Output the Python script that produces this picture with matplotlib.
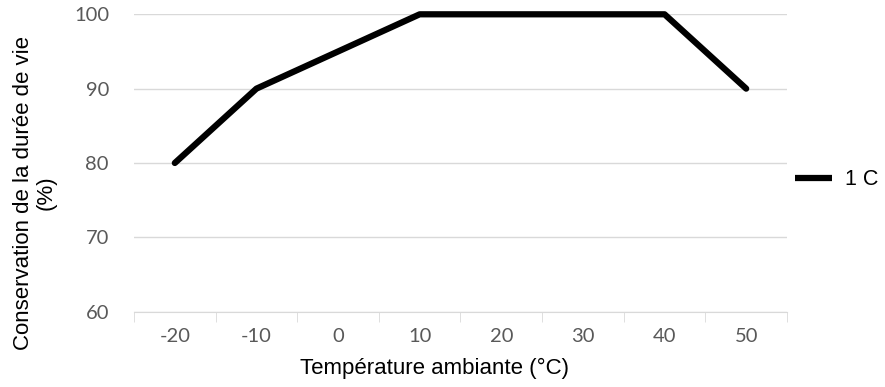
import matplotlib
matplotlib.use("Agg")
import matplotlib.pyplot as plt
import numpy as np

categories = ["-20", "-10", "0", "10", "20", "30", "40", "50"]
values = [80, 90, 95, 100, 100, 100, 100, 90]
series_name = "1 C"
yticks = [60, 70, 80, 90, 100]

W, H = 885, 387
fig = plt.figure(figsize=(W / 100, H / 100), dpi=100)
left, right, top, bottom = 134, 787, 14.3, 311.7
ax = fig.add_axes([left / W, 1 - bottom / H, (right - left) / W, (bottom - top) / H])

x = list(range(len(categories)))
line, = ax.plot(x, values, color="black", lw=4.5, solid_capstyle="round",
                solid_joinstyle="round", label=series_name, clip_on=False, zorder=3)

ax.set_xlim(-0.5, len(categories) - 0.5)
ax.set_ylim(60, 100)
ax.set_yticks(yticks)
ax.set_xticks(x)
ax.set_xticklabels(categories)
ax.yaxis.grid(True, color="#d9d9d9", lw=1)
ax.set_axisbelow(True)
for s in ["top", "right", "left"]:
    ax.spines[s].set_visible(False)
ax.spines["bottom"].set_color("#d9d9d9")
ax.spines["bottom"].set_zorder(1)

ax.set_xticks(np.arange(-0.5, len(categories), 1.0), minor=True)
ax.tick_params(axis="x", which="minor", length=7, color="#d9d9d9", direction="out")
ax.tick_params(axis="x", which="major", length=0, pad=12)
ax.tick_params(axis="y", length=0, pad=18)
for lab in ax.get_xticklabels() + ax.get_yticklabels():
    lab.set_fontfamily("Lato")
    lab.set_fontsize(14.5)
    lab.set_color("#595959")

fig.text(434 / W, 1 - 368 / H, "Température ambiante (°C)", ha="center", va="center",
         fontfamily="Liberation Sans", fontsize=16, color="black")
fig.text(35 / W, 1 - 193 / H, "Conservation de la durée de vie\n(%)", ha="center", va="center",
         rotation=90, fontfamily="Liberation Sans", fontsize=16, color="black",
         multialignment="center", linespacing=1.1)

leg = fig.legend(handles=[line], labels=[series_name], loc="center left",
                 bbox_to_anchor=(795 / W, 1 - 180 / H), frameon=False,
                 borderpad=0, borderaxespad=0,
                 prop={"family": "Liberation Sans", "size": 15.5},
                 handlelength=1.72, handletextpad=0.6)
leg.get_lines()[0].set_linewidth(4.5)
leg.get_lines()[0].set_solid_capstyle("butt")

fig.savefig("out.png", dpi=100)
